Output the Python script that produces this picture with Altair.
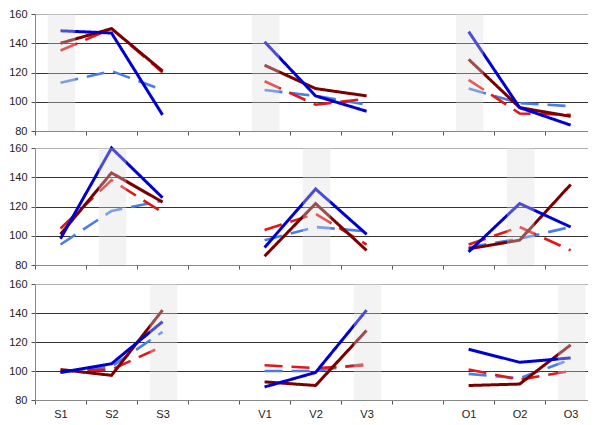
import altair as alt
import pandas as pd

categories = ["S1", "S2", "S3", "", "V1", "V2", "V3", "", "O1", "O2", "O3"]
group_names = ["S", "V", "O"]
group_cats = [["S1", "S2", "S3"], ["V1", "V2", "V3"], ["O1", "O2", "O3"]]
series_names = ["lightblue", "red", "darkred", "blue"]
series_colors = ["#4a7de6", "#e01818", "#7a0000", "#0000d0"]

# values per row, in order S1 S2 S3 V1 V2 V3 O1 O2 O3
row1_darkred = [140, 150, 121, 125, 109, 104, 129, 96, 90]
row1_blue = [148.5, 147, 91, 141, 104, 93.5, 148, 96, 84]
row1_red = [135, 150, 120, 114, 98, 102, 115, 92, 91]
row1_lightblue = [113, 121, 108, 108, 104, 98, 109, 99, 97]

row2_darkred = [101, 143, 123, 86, 122, 90, 91, 97, 135]
row2_blue = [98, 160, 126, 92, 132, 101, 89, 122, 106]
row2_red = [105, 138, 116, 104, 115, 94, 94, 106, 90]
row2_lightblue = [94, 117, 124, 97, 106, 103, 92, 98, 106]

row3_darkred = [101, 97, 142, 92.5, 90, 128, 90, 91, 118]
row3_blue = [99, 105, 134, 89, 99, 142, 115, 106, 109]
row3_red = [100, 101, 117, 104, 102, 104, 101, 94, 100]
row3_lightblue = [99, 103, 127, 100, 100, 105, 98, 95, 108]

highlight_row1 = ["S1", "V1", "O1"]
highlight_row2 = ["S2", "V2", "O2"]
highlight_row3 = ["S3", "V3", "O3"]

rows = [
    {"lightblue": row1_lightblue, "red": row1_red, "darkred": row1_darkred, "blue": row1_blue},
    {"lightblue": row2_lightblue, "red": row2_red, "darkred": row2_darkred, "blue": row2_blue},
    {"lightblue": row3_lightblue, "red": row3_red, "darkred": row3_darkred, "blue": row3_blue},
]
highlights = [highlight_row1, highlight_row2, highlight_row3]
heights = [117, 117, 116]

FONT = "Liberation Sans"
W = 553
cat_js = "[" + ",".join("'" + c + "'" for c in categories) + "]"
xscale = alt.Scale(domain=[-0.5, 10.34], nice=False, zero=False)
yscale = alt.Scale(domain=[80, 160], nice=False, zero=False)
tick_vals = sorted([i - 0.5 for i in range(11)] + list(range(11)))


def panel(idx):
    recs = []
    vals = rows[idx]
    for s in series_names:
        k = 0
        for g, cats in zip(group_names, group_cats):
            for c in cats:
                recs.append({"cat": c, "grp": g, "series": s, "value": vals[s][k]})
                k += 1
    df = pd.DataFrame(recs)
    band_df = pd.DataFrame({"cat": highlights[idx], "top": [160] * 3, "bot": [80] * 3})

    show = idx == 2
    label_expr = "datum.value % 1 == 0 ? " + cat_js + "[datum.value] : ''"
    xaxis = alt.Axis(title=None, values=tick_vals, grid=False,
                     labels=show, labelExpr=label_expr,
                     labelOverlap=False, labelFlush=False,
                     tickOpacity={"condition": {"test": "datum.value % 1 != 0", "value": 1}, "value": 0},
                     labelFontSize=11, labelPadding=4, labelColor="#222",
                     domainColor="#888", tickColor="#555", tickSize=4)
    yaxis = alt.Axis(title=None, values=[80, 100, 120, 140, 160], grid=True,
                     gridColor={"condition": {"test": "datum.value == 160 || datum.value == 80",
                                              "value": "#b0b0b0"}, "value": "#333333"},
                     gridWidth=1, labelFontSize=11, labelPadding=4, labelColor="#222",
                     domainColor="#888", tickColor="#555", tickSize=4)

    layers = []
    for s, col in zip(series_names, series_colors):
        dashed = s in ("lightblue", "red")
        layers.append(
            alt.Chart(df[df.series == s]).transform_calculate(
                xi="indexof(" + cat_js + ", datum.cat)"
            ).mark_line(
                color=col, strokeWidth=2.6 if dashed else 3,
                strokeDash=[18, 9] if dashed else [1, 0],
            ).encode(
                x=alt.X("xi:Q", scale=xscale, axis=xaxis),
                y=alt.Y("value:Q", scale=yscale, axis=yaxis),
                detail="grp:N",
            )
        )
    band = alt.Chart(band_df).transform_calculate(
        x0="indexof(" + cat_js + ", datum.cat) - 0.25",
        x1="indexof(" + cat_js + ", datum.cat) + 0.29",
    ).mark_rect(color="#dcdcdc", opacity=0.35).encode(
        x=alt.X("x0:Q", scale=xscale, axis=xaxis),
        x2="x1:Q",
        y=alt.Y("top:Q", scale=yscale, axis=yaxis),
        y2="bot:Q",
    )
    layers.append(band)
    return alt.layer(*layers).properties(width=W, height=heights[idx])


top_two = alt.vconcat(panel(0), panel(1), spacing=6)
chart = alt.vconcat(top_two, panel(2), spacing=8).properties(
    padding={"left": 0, "top": 0, "right": 0, "bottom": 0}
).configure_view(stroke=None).configure_axis(labelFont=FONT)

chart.save("out.html", embed_options={"renderer": "svg", "actions": False})
